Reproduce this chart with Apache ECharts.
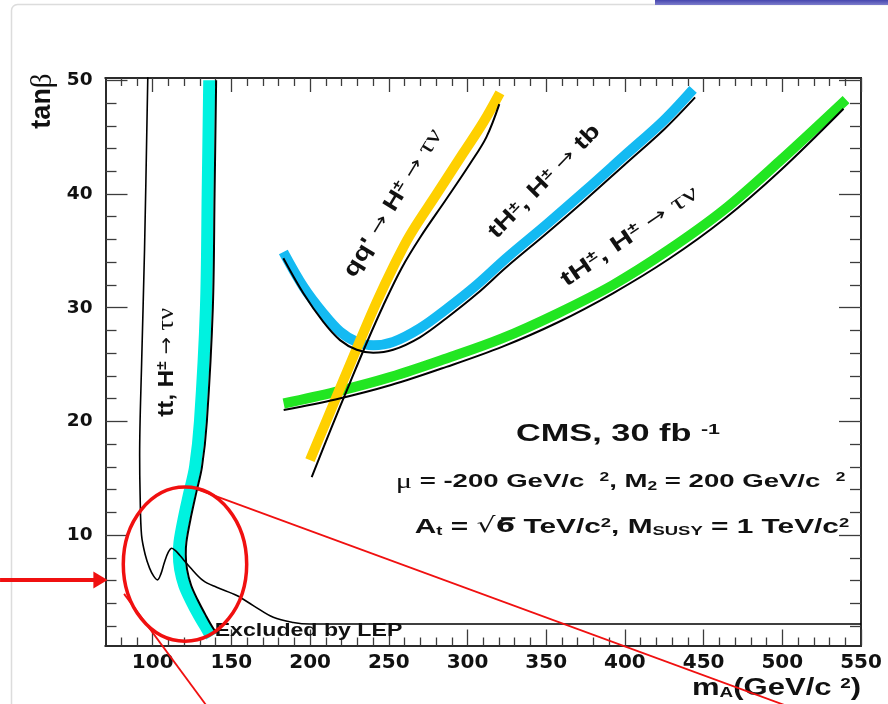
<!DOCTYPE html>
<html>
<head>
<meta charset="utf-8">
<script src="https://cdn.jsdelivr.net/npm/echarts@6/dist/echarts.min.js"></script>
<style>
  html, body { margin: 0; padding: 0; background: #ffffff; }
  #chart { width: 888px; height: 704px; }
</style>
</head>
<body>
<div id="chart"></div>
<script>
// ---- axis ranges and ticks ----
const xRange = [70, 550];
const yRange = [0.3, 50.2];
const xMajorTicks = [100, 150, 200, 250, 300, 350, 400, 450, 500, 550];
const xMinorTicks = [80, 90, 110, 120, 130, 140, 160, 170, 180, 190, 210, 220, 230, 240,
  260, 270, 280, 290, 310, 320, 330, 340, 360, 370, 380, 390, 410, 420, 430, 440,
  460, 470, 480, 490, 510, 520, 530, 540];
const yMajorTicks = [10, 20, 30, 40, 50];
const yMinorTicks = [2, 4, 6, 8, 12, 14, 16, 18, 22, 24, 26, 28, 32, 34, 36, 38, 42, 44, 46, 48];

// ---- 5 sigma discovery contours: [m_A, tan beta] ----
// tt, H+ -> tau nu : coloured band and its contour edge
const ttBand = [[135.9, 50], [134.9, 40], [133.8, 30], [130.0, 20], [126.9, 16], [123.2, 13.7],
  [119.6, 11.4], [117.0, 9.4], [116.6, 8.3], [117.4, 7.0], [120.0, 5.6], [124.2, 4.3],
  [129.5, 2.9], [133.8, 1.9], [137.2, 1.1]];
const ttEdge = [[140.3, 50], [139.3, 40], [138.2, 30], [134.4, 20], [131.3, 16], [127.6, 13.7],
  [124.0, 11.4], [121.4, 9.4], [121.0, 8.3], [121.8, 7.0], [124.4, 5.6], [128.6, 4.3],
  [133.9, 2.9], [138.0, 1.9], [140.5, 1.4]];
// thin contour with the LEP exclusion boundary
const ttThin = [[96.9, 50.5], [94.8, 35.1], [93.0, 25.4], [91.7, 17.0], [92.0, 13.5], [92.9, 10.0],
  [95.2, 8.3], [98.0, 7.1], [100.6, 6.4], [103.0, 6.07], [105.2, 6.6], [107.4, 7.6], [109.9, 8.5],
  [112.1, 8.85], [114.8, 8.6], [117.3, 8.21], [123.7, 7.18], [132.1, 6.0], [140.6, 5.42],
  [153.4, 4.69], [163.9, 3.81], [176.6, 2.78], [189.3, 2.33], [199.9, 2.19], [550, 2.19]];
// qq' -> H+ -> tau nu
const qqBand = [[199.9, 16.6], [210.5, 20.1], [221.1, 23.6], [231.7, 27.1], [242.3, 30.5],
  [252.9, 33.6], [263.5, 36.4], [280.4, 40.0], [297.3, 43.6], [310.0, 46.3], [320.6, 48.9]];
const qqEdge = [[201.0, 15.1], [213.7, 19.5], [225.3, 23.4], [235.9, 26.9], [246.5, 30.2],
  [258.2, 33.5], [270.0, 36.2], [286.8, 39.6], [301.8, 42.7], [312.0, 45.0], [320.2, 47.9]];
// tH+, H+ -> tb
const tbBand = [[183.0, 34.9], [195.7, 31.85], [208.4, 29.5], [219.0, 27.9], [229.6, 27.0],
  [240.1, 26.7], [252.8, 27.0], [269.8, 28.2], [286.8, 29.9], [305.8, 32.0], [325, 34.4],
  [350, 37.3], [375, 40.3], [400, 43.4], [425, 46.5], [443.3, 49.2]];
const tbEdge = [[183.0, 34.35], [195.7, 31.27], [208.4, 28.75], [219.0, 27.15], [229.6, 26.3],
  [240.1, 26.04], [252.8, 26.3], [269.8, 27.4], [286.8, 29.1], [305.8, 31.2], [325, 33.6],
  [350, 36.5], [375, 39.5], [400, 42.6], [425, 45.7], [444.6, 48.5]];
// tH+, H+ -> tau nu
const tnBand = [[183.2, 21.58], [216.1, 22.6], [251.4, 23.92], [286.6, 25.54], [321.9, 27.3],
  [357.2, 29.5], [392.4, 32.0], [427.7, 35.08], [462.9, 38.6], [498.1, 42.86], [540.5, 48.3]];
const tnEdge = [[183.2, 21.0], [216.1, 21.93], [251.4, 23.2], [286.6, 24.8], [321.9, 26.56],
  [357.2, 28.7], [392.4, 31.27], [427.7, 34.26], [462.9, 37.78], [498.1, 41.98], [538.9, 47.5]];

// ---- highlighted low-mass region (axis units) ----
const focusBox = { x: [81.3, 159.7], y: [0.68, 14.23] };
const calloutA = [[128.8, 14.0], [501.1, -4.92]];
const calloutB = [[81.8, 4.84], [133.8, -4.92]];
const pointer = { from: 3.0, tip: 71.3, base: 62.3, y: 6.07 };

const SANS = 'Liberation Sans';
const INK = '#111111';

function xAxisDef(position, ticks, len, labelled) {
  return {
    type: 'value', gridIndex: 0, position: position, min: xRange[0], max: xRange[1],
    axisLine: { show: true, onZero: false, lineStyle: { color: '#2b2b2b', width: 2 } },
    axisTick: { show: true, inside: true, length: len, customValues: ticks,
      lineStyle: { color: '#3c3c3c', width: 1.3 } },
    axisLabel: labelled ? {
      show: true, customValues: ticks, margin: 7,
      fontSize: 20, fontWeight: 'bold', fontFamily: 'DejaVu Sans', color: INK
    } : { show: false },
    splitLine: { show: false }, minorTick: { show: false }
  };
}

function yAxisDef(position, ticks, len, labelled) {
  return {
    type: 'value', gridIndex: 0, position: position, min: yRange[0], max: yRange[1],
    axisLine: { show: true, onZero: false, lineStyle: { color: '#2b2b2b', width: 2 } },
    axisTick: { show: true, inside: true, length: len, customValues: ticks,
      lineStyle: { color: '#3c3c3c', width: 1.3 } },
    axisLabel: labelled ? {
      show: true, customValues: ticks, margin: 13,
      fontSize: 18.5, fontWeight: 'bold', fontFamily: 'DejaVu Sans', color: INK
    } : { show: false },
    splitLine: { show: false }, minorTick: { show: false }
  };
}

function curve(data, color, width, z) {
  return {
    type: 'line', xAxisIndex: 0, yAxisIndex: 0, data: data, z: z,
    symbol: 'none', showSymbol: false, smooth: 0.35, silent: true, animation: false,
    lineStyle: { color: color, width: width, cap: 'butt', join: 'round' }
  };
}

const chart = echarts.init(document.getElementById('chart'), null, { renderer: 'canvas' });

chart.setOption({
  backgroundColor: '#ffffff',
  animation: false,
  grid: { left: 105.5, top: 78, width: 755.5, height: 567.5, containLabel: false, outerBoundsMode: 'none', show: false },
  xAxis: [
    xAxisDef('bottom', xMajorTicks, 16, true),
    xAxisDef('bottom', xMinorTicks, 8, false),
    xAxisDef('top', xMajorTicks, 14, false),
    xAxisDef('top', xMinorTicks, 8, false)
  ],
  yAxis: [
    yAxisDef('left', yMajorTicks, 22, true),
    yAxisDef('left', yMinorTicks, 11, false),
    yAxisDef('right', yMajorTicks, 22, false),
    yAxisDef('right', yMinorTicks, 11, false)
  ],
  series: [
    curve(tnBand, '#22e622', 10, 2),
    curve(tbBand, '#14baf2', 10, 3),
    curve(qqBand, '#ffd000', 10, 4),
    curve(ttBand, '#00f2e0', 12, 5),
    curve(tnEdge, '#000000', 2, 10),
    curve(tbEdge, '#000000', 2, 10),
    curve(qqEdge, '#000000', 2, 10),
    curve(ttEdge, '#000000', 2, 10),
    curve(ttThin, '#000000', 1.6, 11)
  ]
});

// ---- text and overlay decorations ----
function richSet(size) {
  return {
    b: { fontFamily: SANS, fontWeight: 'bold', fontSize: size, fill: INK },
    sup: { fontFamily: SANS, fontWeight: 'bold', fontSize: Math.round(size * 0.62), verticalAlign: 'top', fill: INK },
    sub: { fontFamily: SANS, fontWeight: 'bold', fontSize: Math.round(size * 0.62), verticalAlign: 'bottom', fill: INK },
    g: { fontFamily: 'Liberation Serif', fontSize: Math.round(size * 1.08), fill: INK },
    ar: { fontFamily: 'DejaVu Sans', fontSize: Math.round(size * 0.85), fill: INK },
    rt: { fontFamily: 'DejaVu Sans', fontSize: size, fill: INK },
    ov: { fontFamily: 'DejaVu Sans', fontWeight: 'bold', fontSize: size * 0.95, fill: INK }
  };
}

function label(x, y, text, size, extra) {
  extra = extra || {};
  return {
    type: 'text', x: x, y: y, z: 100, silent: true,
    rotation: extra.rotation || 0, scaleX: extra.scaleX || 1,
    style: {
      text: text, rich: richSet(size), fill: INK,
      align: extra.align || 'center', verticalAlign: 'middle'
    }
  };
}

const toPx = p => chart.convertToPixel({ gridIndex: 0 }, p);
const deg = a => a * Math.PI / 180;

const b1 = toPx([focusBox.x[0], focusBox.y[1]]);
const b2 = toPx([focusBox.x[1], focusBox.y[0]]);
const a1 = toPx(calloutA[0]), a2 = toPx(calloutA[1]);
const c1 = toPx(calloutB[0]), c2 = toPx(calloutB[1]);
const pFrom = toPx([pointer.from, pointer.y]);
const pTip = toPx([pointer.tip, pointer.y]);
const pBase = toPx([pointer.base, pointer.y]);

const ttPos = toPx([109.1, 25.2]);
const qqPos = toPx([252.7, 39.2]);
const tbPos = toPx([348.9, 41.1]);
const tnPos = toPx([403.0, 36.26]);

const RED = '#f01010';

chart.setOption({
  graphic: [
    // slide frame and header strip
    { type: 'rect', silent: true, z: 0, shape: { x: 11.5, y: 4.5, width: 900, height: 720, r: 6 },
      style: { fill: 'none', stroke: '#dcdcdc', lineWidth: 1.5 } },
    { type: 'rect', silent: true, z: 1, shape: { x: 655, y: 0, width: 233, height: 5 },
      style: { fill: new echarts.graphic.LinearGradient(0, 0, 0, 1, [
        { offset: 0, color: '#4646ae' }, { offset: 1, color: '#7d7dcc' }]) } },

    // axis titles
    label(43, 101, '{b|tan}{g|β}', 27, { rotation: deg(90) }),
    label(861, 689, '{b|m}{sub|A}{b|(GeV/c }{sup|2}{b|)}', 23, { align: 'right', scaleX: 1.35 }),

    // curve labels
    label(ttPos[0], ttPos[1], '{b|tt, H}{sup|±}{ar| → }{g|τν}', 22, { rotation: deg(90), scaleX: 1.1 }),
    label(qqPos[0], qqPos[1], "{b|qq'}{ar| → }{b|H}{sup|±}{ar| → }{g|τν}", 22, { rotation: deg(58.7), scaleX: 1.28 }),
    label(tbPos[0], tbPos[1], '{b|tH}{sup|±}{b|, H}{sup|±}{ar| → }{b|tb}', 22, { rotation: deg(45.7), scaleX: 1.3 }),
    label(tnPos[0], tnPos[1], '{b|tH}{sup|±}{b|, H}{sup|±}{ar| → }{g|τν}', 22, { rotation: deg(34.3), scaleX: 1.4 }),

    // physics parameters
    label(618, 434, '{b|CMS, 30 fb }{sup|-1}', 24, { scaleX: 1.43 }),
    label(620.5, 482, '{g|μ}{b| = -200 GeV/c  }{sup|2}{b|, M}{sub|2}{b| = 200 GeV/c  }{sup|2}', 19, { scaleX: 1.45 }),
    label(632, 527, '{b|A}{sub|t}{b| = }{rt|√}{ov|6\u0305}{b| TeV/c}{sup|2}{b|, M}{sub|SUSY}{b| = 1 TeV/c}{sup|2}', 21, { scaleX: 1.42 }),
    label(308.5, 631, '{b|Excluded by LEP}', 18.5, { scaleX: 1.25 }),

    // red call-out around the low-mass region
    { type: 'ellipse', silent: true, z: 120,
      shape: { cx: (b1[0] + b2[0]) / 2, cy: (b1[1] + b2[1]) / 2,
               rx: Math.abs(b2[0] - b1[0]) / 2, ry: Math.abs(b2[1] - b1[1]) / 2 },
      style: { fill: 'none', stroke: RED, lineWidth: 3.5 } },
    { type: 'line', silent: true, z: 120, shape: { x1: a1[0], y1: a1[1], x2: a2[0], y2: a2[1] },
      style: { stroke: RED, lineWidth: 1.8 } },
    { type: 'line', silent: true, z: 120, shape: { x1: c1[0], y1: c1[1], x2: c2[0], y2: c2[1] },
      style: { stroke: RED, lineWidth: 1.8 } },
    { type: 'line', silent: true, z: 120, shape: { x1: pFrom[0], y1: pFrom[1], x2: pBase[0] + 1, y2: pBase[1] },
      style: { stroke: RED, lineWidth: 4 } },
    { type: 'polygon', silent: true, z: 120,
      shape: { points: [[pTip[0], pTip[1]], [pBase[0], pBase[1] - 8.5], [pBase[0], pBase[1] + 8.5]] },
      style: { fill: RED } }
  ]
});
</script>
</body>
</html>
